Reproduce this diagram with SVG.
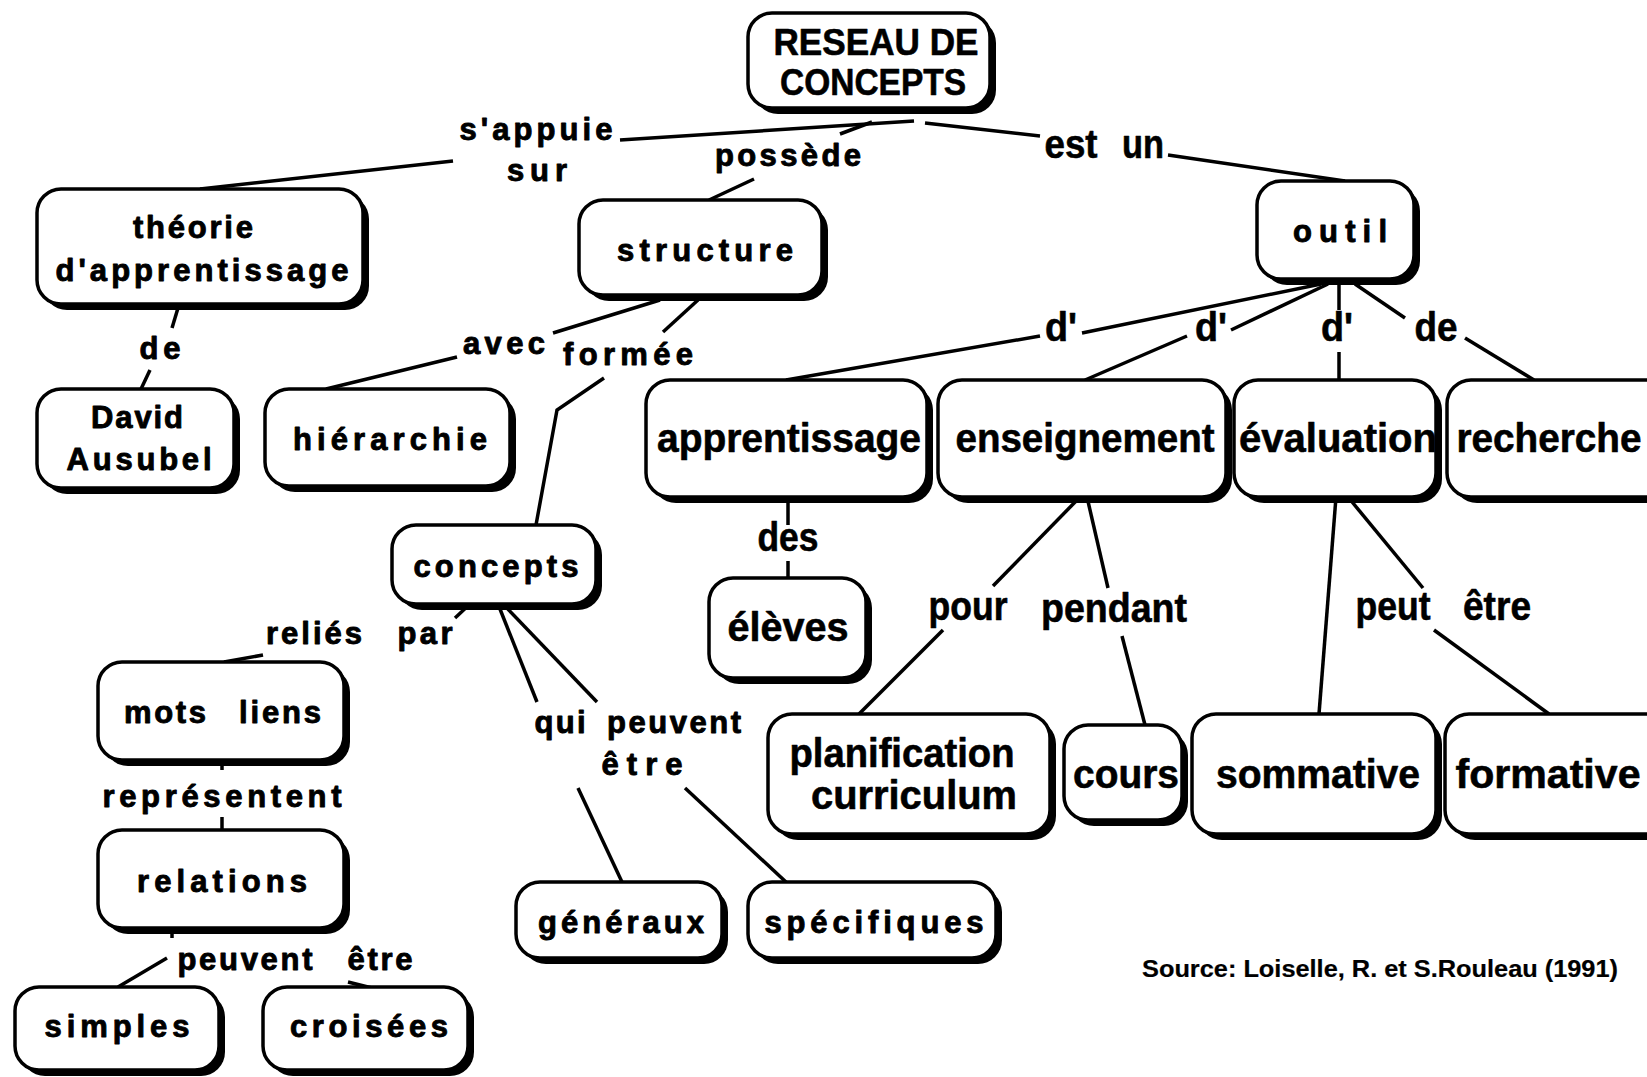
<svg xmlns="http://www.w3.org/2000/svg" width="1647" height="1077" viewBox="0 0 1647 1077">
  <style>
    .sh { fill: #000; }
    .bx { fill: #fff; stroke: #000; stroke-width: 3.5; }
    text { font-family: "Liberation Sans", Arial, Helvetica, sans-serif; font-weight: bold; fill: #000; text-anchor: middle; stroke: #000; stroke-linejoin: round; }
    .t { font-size: 31px; stroke-width: 0.9; }
    .c { font-size: 40px; stroke-width: 0.6; }
    .h { font-size: 36px; stroke-width: 0.6; }
    .src { font-size: 23px; stroke-width: 0.2; }
    #links line, #links polyline { stroke: #000; stroke-width: 3.5; fill: none; stroke-linecap: butt; }
  </style>
  <rect width="1647" height="1077" fill="#fff"/>

  <!-- connectors and their labels -->
  <g id="links">
    <line x1="914" y1="121" x2="620" y2="140"/>
    <line x1="453" y1="161" x2="200" y2="189"/>
    <text class="t" x="536" y="140" textLength="153" lengthAdjust="spacing">s'appuie</text>
    <text class="t" x="537" y="181" textLength="60" lengthAdjust="spacing">sur</text>

    <line x1="872" y1="122" x2="840" y2="134"/>
    <line x1="754" y1="179" x2="709" y2="200"/>
    <text class="t" x="788" y="166" textLength="146" lengthAdjust="spacing">possède</text>

    <line x1="925" y1="123" x2="1040" y2="136"/>
    <line x1="1168" y1="155" x2="1345" y2="181"/>
    <text class="c" x="1071" y="158" textLength="53" lengthAdjust="spacingAndGlyphs">est</text>
    <text class="c" x="1143" y="158" textLength="42" lengthAdjust="spacingAndGlyphs">un</text>

    <line x1="178" y1="308" x2="172" y2="328"/>
    <line x1="150" y1="370" x2="141" y2="389"/>
    <text class="t" x="160" y="359" textLength="41" lengthAdjust="spacing">de</text>

    <line x1="660" y1="300" x2="553" y2="333"/>
    <line x1="457" y1="357" x2="326" y2="389"/>
    <text class="t" x="504" y="354" textLength="82" lengthAdjust="spacing">avec</text>

    <line x1="698" y1="300" x2="663" y2="332"/>
    <polyline points="604,378 557,410 536,525"/>
    <text class="t" x="628" y="365" textLength="130" lengthAdjust="spacing">formée</text>

    <line x1="1321" y1="284" x2="1082" y2="333"/>
    <line x1="1040" y1="336" x2="786" y2="380"/>
    <text class="c" x="1061" y="341" textLength="32" lengthAdjust="spacingAndGlyphs">d'</text>

    <line x1="1328" y1="284" x2="1231" y2="330"/>
    <line x1="1187" y1="336" x2="1085" y2="380"/>
    <text class="c" x="1211" y="341" textLength="32" lengthAdjust="spacingAndGlyphs">d'</text>

    <line x1="1339" y1="284" x2="1339" y2="310"/>
    <line x1="1339" y1="352" x2="1339" y2="380"/>
    <text class="c" x="1337" y="341" textLength="32" lengthAdjust="spacingAndGlyphs">d'</text>

    <line x1="1355" y1="284" x2="1405" y2="318"/>
    <line x1="1465" y1="338" x2="1534" y2="380"/>
    <text class="c" x="1436" y="341" textLength="43" lengthAdjust="spacingAndGlyphs">de</text>

    <line x1="788" y1="497" x2="788" y2="525"/>
    <line x1="788" y1="561" x2="788" y2="578"/>
    <text class="c" x="788" y="551" textLength="61" lengthAdjust="spacingAndGlyphs">des</text>

    <line x1="1080" y1="497" x2="993" y2="586"/>
    <line x1="943" y1="630" x2="859" y2="714"/>
    <text class="c" x="968" y="620" textLength="79" lengthAdjust="spacingAndGlyphs">pour</text>

    <line x1="1087" y1="497" x2="1108" y2="588"/>
    <line x1="1122" y1="636" x2="1145" y2="725"/>
    <text class="c" x="1114" y="622" textLength="146" lengthAdjust="spacingAndGlyphs">pendant</text>

    <line x1="1336" y1="497" x2="1319" y2="714"/>
    <line x1="1348" y1="497" x2="1423" y2="588"/>
    <line x1="1434" y1="630" x2="1549" y2="714"/>
    <text class="c" x="1393" y="620" textLength="75" lengthAdjust="spacingAndGlyphs">peut</text>
    <text class="c" x="1497" y="620" textLength="68" lengthAdjust="spacingAndGlyphs">être</text>

    <line x1="498" y1="604" x2="537" y2="702"/>
    <line x1="503" y1="604" x2="597" y2="702"/>
    <text class="t" x="560" y="733" textLength="51" lengthAdjust="spacing">qui</text>
    <text class="t" x="674" y="733" textLength="134" lengthAdjust="spacing">peuvent</text>
    <text class="t" x="642" y="775" textLength="81" lengthAdjust="spacing">être</text>
    <line x1="578" y1="788" x2="622" y2="882"/>
    <line x1="685" y1="788" x2="786" y2="882"/>

    <line x1="470" y1="604" x2="455" y2="618"/>
    <text class="t" x="314" y="644" textLength="96" lengthAdjust="spacing">reliés</text>
    <text class="t" x="425" y="644" textLength="55" lengthAdjust="spacing">par</text>
    <line x1="263" y1="655" x2="224" y2="662"/>

    <line x1="222" y1="760" x2="222" y2="770"/>
    <text class="t" x="222" y="807" textLength="239" lengthAdjust="spacing">représentent</text>
    <line x1="222" y1="817" x2="222" y2="830"/>

    <line x1="172" y1="928" x2="172" y2="938"/>
    <line x1="167" y1="958" x2="118" y2="987"/>
    <text class="t" x="245" y="970" textLength="135" lengthAdjust="spacing">peuvent</text>
    <text class="t" x="380" y="970" textLength="65" lengthAdjust="spacing">être</text>
    <line x1="348" y1="982" x2="372" y2="988"/>
  </g>

  <!-- concept nodes: shadow, white rounded box, label -->
  <g id="n-reseau">
    <rect class="sh" x="754" y="19" width="242" height="95" rx="24"/>
    <rect class="bx" x="748" y="13" width="242" height="95" rx="24"/>
    <text class="h" x="876" y="55" textLength="205" lengthAdjust="spacingAndGlyphs">RESEAU DE</text>
    <text class="h" x="873" y="95" textLength="186" lengthAdjust="spacingAndGlyphs">CONCEPTS</text>
  </g>

  <g id="n-theorie">
    <rect class="sh" x="43" y="195" width="326" height="115" rx="24"/>
    <rect class="bx" x="37" y="189" width="326" height="115" rx="24"/>
    <text class="t" x="193" y="238" textLength="120" lengthAdjust="spacing">théorie</text>
    <text class="t" x="202" y="281" textLength="293" lengthAdjust="spacing">d'apprentissage</text>
  </g>

  <g id="n-structure">
    <rect class="sh" x="585" y="206" width="243" height="95" rx="24"/>
    <rect class="bx" x="579" y="200" width="243" height="95" rx="24"/>
    <text class="t" x="705" y="261" textLength="176" lengthAdjust="spacing">structure</text>
  </g>

  <g id="n-outil">
    <rect class="sh" x="1263" y="187" width="157" height="98" rx="24"/>
    <rect class="bx" x="1257" y="181" width="157" height="98" rx="24"/>
    <text class="t" x="1340" y="242" textLength="94" lengthAdjust="spacing">outil</text>
  </g>

  <g id="n-ausubel">
    <rect class="sh" x="43" y="395" width="197" height="99" rx="24"/>
    <rect class="bx" x="37" y="389" width="197" height="99" rx="24"/>
    <text class="t" x="137" y="428" textLength="92" lengthAdjust="spacing">David</text>
    <text class="t" x="139" y="470" textLength="145" lengthAdjust="spacing">Ausubel</text>
  </g>

  <g id="n-hierarchie">
    <rect class="sh" x="271" y="395" width="245" height="97" rx="24"/>
    <rect class="bx" x="265" y="389" width="245" height="97" rx="24"/>
    <text class="t" x="390" y="450" textLength="194" lengthAdjust="spacing">hiérarchie</text>
  </g>

  <g id="n-concepts">
    <rect class="sh" x="398" y="531" width="204" height="79" rx="24"/>
    <rect class="bx" x="392" y="525" width="204" height="79" rx="24"/>
    <text class="t" x="496" y="577" textLength="165" lengthAdjust="spacing">concepts</text>
  </g>

  <g id="n-apprentissage">
    <rect class="sh" x="652" y="386" width="281" height="117" rx="24"/>
    <rect class="bx" x="646" y="380" width="281" height="117" rx="24"/>
    <text class="c" x="789" y="452" textLength="264" lengthAdjust="spacingAndGlyphs">apprentissage</text>
  </g>

  <g id="n-enseignement">
    <rect class="sh" x="944" y="386" width="288" height="117" rx="24"/>
    <rect class="bx" x="938" y="380" width="288" height="117" rx="24"/>
    <text class="c" x="1085" y="452" textLength="259" lengthAdjust="spacingAndGlyphs">enseignement</text>
  </g>

  <g id="n-evaluation">
    <rect class="sh" x="1240" y="386" width="202" height="117" rx="24"/>
    <rect class="bx" x="1234" y="380" width="202" height="117" rx="24"/>
    <text class="c" x="1338" y="452" textLength="198" lengthAdjust="spacingAndGlyphs">évaluation</text>
  </g>

  <g id="n-recherche">
    <rect class="sh" x="1453" y="386" width="230" height="117" rx="24"/>
    <rect class="bx" x="1447" y="380" width="230" height="117" rx="24"/>
    <text class="c" x="1549" y="452" textLength="185" lengthAdjust="spacingAndGlyphs">recherche</text>
  </g>

  <g id="n-eleves">
    <rect class="sh" x="715" y="584" width="157" height="100" rx="24"/>
    <rect class="bx" x="709" y="578" width="157" height="100" rx="24"/>
    <text class="c" x="788" y="641" textLength="121" lengthAdjust="spacingAndGlyphs">élèves</text>
  </g>

  <g id="n-mots-liens">
    <rect class="sh" x="104" y="668" width="246" height="98" rx="24"/>
    <rect class="bx" x="98" y="662" width="246" height="98" rx="24"/>
    <text class="t" x="165" y="723" textLength="82" lengthAdjust="spacing">mots</text>
    <text class="t" x="280" y="723" textLength="82" lengthAdjust="spacing">liens</text>
  </g>

  <g id="n-relations">
    <rect class="sh" x="104" y="836" width="246" height="98" rx="24"/>
    <rect class="bx" x="98" y="830" width="246" height="98" rx="24"/>
    <text class="t" x="222" y="892" textLength="170" lengthAdjust="spacing">relations</text>
  </g>

  <g id="n-simples">
    <rect class="sh" x="21" y="993" width="204" height="83" rx="24"/>
    <rect class="bx" x="15" y="987" width="204" height="83" rx="24"/>
    <text class="t" x="117" y="1037" textLength="145" lengthAdjust="spacing">simples</text>
  </g>

  <g id="n-croisees">
    <rect class="sh" x="269" y="993" width="205" height="83" rx="24"/>
    <rect class="bx" x="263" y="987" width="205" height="83" rx="24"/>
    <text class="t" x="369" y="1037" textLength="158" lengthAdjust="spacing">croisées</text>
  </g>

  <g id="n-generaux">
    <rect class="sh" x="522" y="888" width="206" height="76" rx="24"/>
    <rect class="bx" x="516" y="882" width="206" height="76" rx="24"/>
    <text class="t" x="621" y="933" textLength="166" lengthAdjust="spacing">généraux</text>
  </g>

  <g id="n-specifiques">
    <rect class="sh" x="754" y="888" width="248" height="76" rx="24"/>
    <rect class="bx" x="748" y="882" width="248" height="76" rx="24"/>
    <text class="t" x="874" y="933" textLength="219" lengthAdjust="spacing">spécifiques</text>
  </g>

  <g id="n-planification">
    <rect class="sh" x="774" y="720" width="282" height="120" rx="24"/>
    <rect class="bx" x="768" y="714" width="282" height="120" rx="24"/>
    <text class="c" x="902" y="767" textLength="225" lengthAdjust="spacingAndGlyphs">planification</text>
    <text class="c" x="914" y="809" textLength="206" lengthAdjust="spacingAndGlyphs">curriculum</text>
  </g>

  <g id="n-cours">
    <rect class="sh" x="1070" y="731" width="118" height="95" rx="24"/>
    <rect class="bx" x="1064" y="725" width="118" height="95" rx="24"/>
    <text class="c" x="1126" y="788" textLength="106" lengthAdjust="spacingAndGlyphs">cours</text>
  </g>

  <g id="n-sommative">
    <rect class="sh" x="1198" y="720" width="244" height="120" rx="24"/>
    <rect class="bx" x="1192" y="714" width="244" height="120" rx="24"/>
    <text class="c" x="1318" y="788" textLength="204" lengthAdjust="spacingAndGlyphs">sommative</text>
  </g>

  <g id="n-formative">
    <rect class="sh" x="1451" y="720" width="230" height="120" rx="24"/>
    <rect class="bx" x="1445" y="714" width="230" height="120" rx="24"/>
    <text class="c" x="1548" y="788" textLength="185" lengthAdjust="spacingAndGlyphs">formative</text>
  </g>

  <text class="src" x="1380" y="977" textLength="476" lengthAdjust="spacingAndGlyphs">Source: Loiselle, R. et S.Rouleau (1991)</text>
</svg>
